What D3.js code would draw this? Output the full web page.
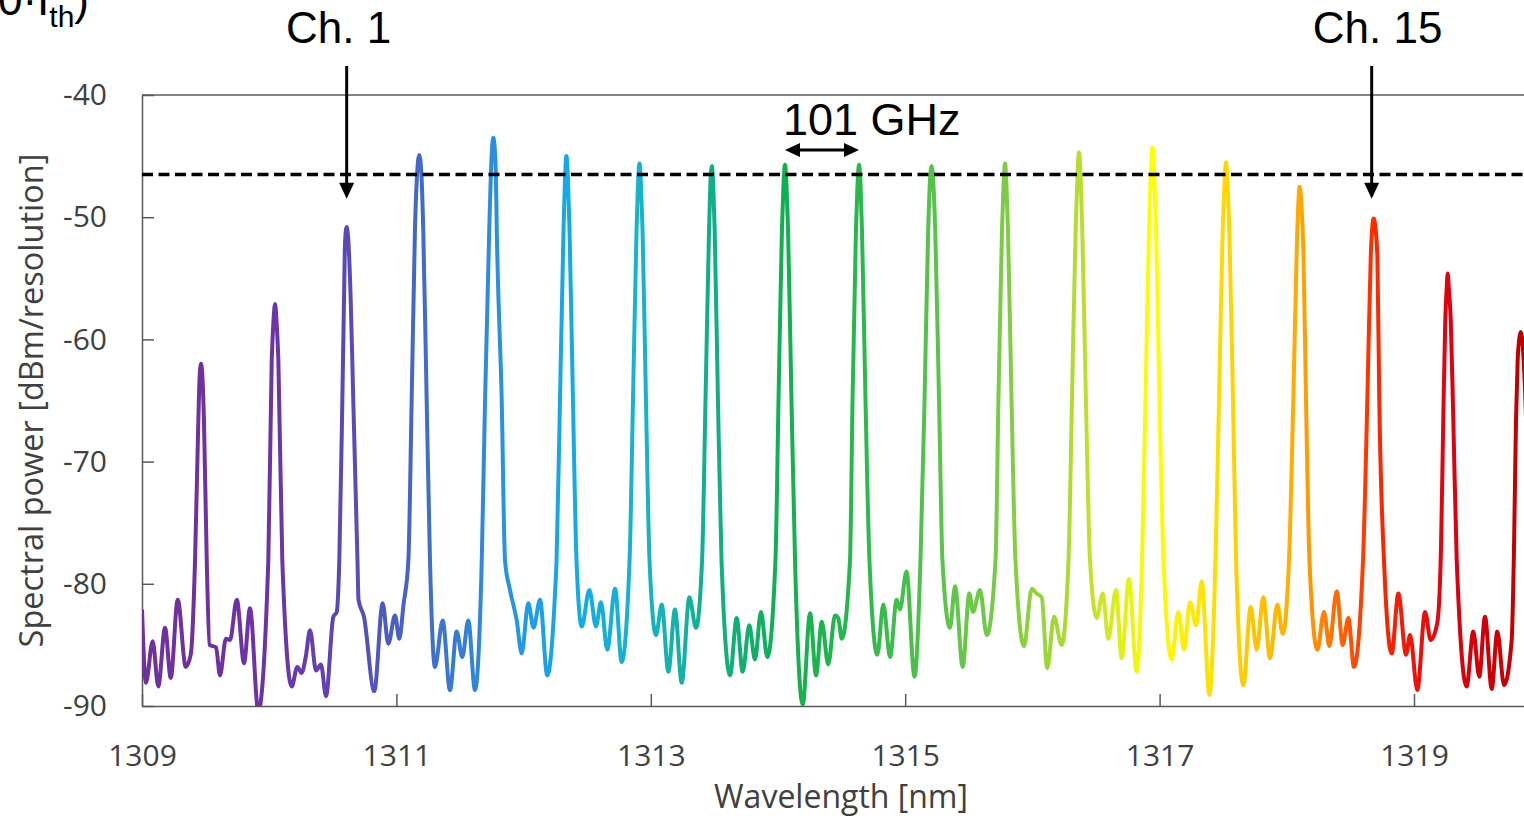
<!DOCTYPE html>
<html>
<head>
<meta charset="utf-8">
<script src="https://cdn.jsdelivr.net/npm/d3@7"></script>
<style>
  body { margin: 0; background: #fff; }
  svg { display: block; }
</style>
</head>
<body>
<div id="chart"></div>
<script>
// measured spectrum, [wavelength nm, power dBm]
var spectrum = [
  [1309.000, -82.1], [1309.031, -88.1], [1309.084, -84.7], [1309.128, -88.4], [1309.181, -83.6],
  [1309.226, -87.7], [1309.281, -81.3], [1309.344, -86.8], [1309.383, -85.8],
  [1309.417, -78.1], [1309.443, -66.6], [1309.452, -63.3], [1309.464, -62.0], [1309.476, -63.3],
  [1309.487, -66.6], [1309.509, -78.1], [1309.531, -85.0], [1309.582, -85.2], [1309.613, -87.5],
  [1309.660, -84.5], [1309.692, -84.6], [1309.745, -81.3], [1309.802, -86.5], [1309.849, -82.0],
  [1309.914, -90.4],
  [1309.993, -78.1], [1310.020, -61.7], [1310.034, -58.4], [1310.046, -57.1], [1310.057, -58.4],
  [1310.072, -61.7], [1310.103, -78.1], [1310.177, -88.4], [1310.221, -86.8], [1310.255, -87.3],
  [1310.287, -86.0], [1310.321, -83.8], [1310.368, -87.1], [1310.407, -86.6], [1310.447, -89.2],
  [1310.504, -82.7], [1310.531, -82.3],
  [1310.551, -78.1], [1310.575, -65.0], [1310.588, -56.8], [1310.597, -51.9], [1310.609, -50.8],
  [1310.622, -51.9], [1310.641, -56.8], [1310.661, -65.0], [1310.694, -78.1], [1310.702, -81.3],
  [1310.745, -82.7], [1310.826, -88.8], [1310.892, -81.6], [1310.936, -84.9], [1310.989, -82.6],
  [1311.023, -84.5], [1311.056, -81.7],
  [1311.094, -78.1], [1311.120, -65.0], [1311.146, -51.0], [1311.160, -47.0], [1311.180, -44.9],
  [1311.199, -47.0], [1311.211, -51.0], [1311.238, -65.0], [1311.264, -78.1], [1311.303, -86.8],
  [1311.364, -83.0], [1311.421, -88.7], [1311.474, -83.9], [1311.518, -86.0], [1311.565, -83.0],
  [1311.618, -88.7],
  [1311.671, -78.1], [1311.697, -65.0], [1311.730, -51.0], [1311.744, -46.1], [1311.762, -43.5],
  [1311.781, -46.1], [1311.789, -51.0], [1311.828, -65.0], [1311.854, -78.1], [1311.893, -80.5],
  [1311.946, -83.0], [1311.985, -85.7], [1312.037, -81.6], [1312.078, -83.6], [1312.129, -81.3],
  [1312.186, -87.5], [1312.247, -80.8],
  [1312.259, -78.1], [1312.286, -65.0], [1312.314, -51.0], [1312.325, -47.0], [1312.337, -45.0],
  [1312.349, -47.0], [1312.361, -51.0], [1312.388, -65.0], [1312.416, -78.1], [1312.457, -83.5],
  [1312.517, -80.5], [1312.569, -83.5], [1312.608, -81.5], [1312.658, -85.4], [1312.719, -80.4],
  [1312.771, -86.4],
  [1312.833, -78.1], [1312.860, -65.0], [1312.888, -51.0], [1312.899, -47.4], [1312.911, -45.6],
  [1312.923, -47.4], [1312.935, -51.0], [1312.962, -65.0], [1312.990, -78.1], [1313.041, -84.2],
  [1313.086, -81.7], [1313.138, -87.2], [1313.190, -82.1], [1313.243, -88.1], [1313.303, -81.1],
  [1313.355, -83.6],
  [1313.403, -78.1], [1313.430, -65.0], [1313.458, -51.0], [1313.468, -47.4], [1313.480, -45.8],
  [1313.491, -47.4], [1313.502, -51.0], [1313.528, -65.0], [1313.556, -78.1], [1313.623, -87.5],
  [1313.675, -82.8], [1313.722, -87.2], [1313.774, -83.4], [1313.819, -86.2], [1313.866, -82.3],
  [1313.916, -86.0],
  [1313.980, -78.1], [1314.004, -65.0], [1314.031, -51.0], [1314.043, -47.4], [1314.055, -45.7],
  [1314.067, -47.4], [1314.079, -51.0], [1314.106, -65.0], [1314.134, -78.1], [1314.194, -89.9],
  [1314.252, -82.4], [1314.299, -87.5], [1314.344, -83.1], [1314.395, -86.6], [1314.448, -82.6],
  [1314.474, -82.8], [1314.501, -84.5],
  [1314.566, -78.1], [1314.586, -65.0], [1314.613, -51.0], [1314.625, -47.4], [1314.637, -45.7],
  [1314.649, -47.4], [1314.660, -51.0], [1314.688, -65.0], [1314.719, -78.1], [1314.781, -85.8],
  [1314.828, -81.7], [1314.881, -86.0], [1314.933, -81.3], [1314.959, -82.1], [1315.010, -79.0],
  [1315.073, -87.6],
  [1315.120, -78.1], [1315.152, -65.0], [1315.181, -51.0], [1315.193, -47.4], [1315.208, -45.8],
  [1315.222, -47.4], [1315.236, -51.0], [1315.266, -65.0], [1315.293, -78.1], [1315.352, -83.6],
  [1315.392, -80.2], [1315.452, -86.8], [1315.504, -80.8], [1315.533, -82.3], [1315.588, -80.5],
  [1315.641, -84.2],
  [1315.710, -78.1], [1315.733, -65.0], [1315.761, -51.0], [1315.773, -47.4], [1315.785, -45.6],
  [1315.796, -47.4], [1315.808, -51.0], [1315.836, -65.0], [1315.867, -78.1], [1315.934, -85.1],
  [1315.995, -80.4], [1316.034, -80.8], [1316.073, -81.1], [1316.117, -86.9], [1316.170, -82.7],
  [1316.230, -85.0],
  [1316.284, -78.1], [1316.311, -65.0], [1316.340, -51.0], [1316.353, -47.0], [1316.366, -44.7],
  [1316.380, -47.0], [1316.392, -51.0], [1316.421, -65.0], [1316.453, -78.1], [1316.506, -82.8],
  [1316.553, -80.8], [1316.597, -84.5], [1316.657, -80.5], [1316.702, -86.1], [1316.759, -79.6],
  [1316.820, -87.2],
  [1316.862, -78.1], [1316.889, -65.0], [1316.917, -51.0], [1316.929, -47.0], [1316.944, -44.3],
  [1316.959, -47.0], [1316.972, -51.0], [1316.999, -65.0], [1317.031, -78.1], [1317.095, -86.2],
  [1317.147, -82.3], [1317.192, -85.4], [1317.239, -81.5], [1317.286, -83.4], [1317.331, -79.8],
  [1317.391, -89.1],
  [1317.439, -78.1], [1317.467, -65.0], [1317.496, -51.0], [1317.509, -47.4], [1317.522, -45.5],
  [1317.535, -47.4], [1317.548, -51.0], [1317.577, -65.0], [1317.601, -78.1], [1317.658, -88.3],
  [1317.716, -81.9], [1317.763, -85.4], [1317.815, -81.1], [1317.868, -86.1], [1317.925, -81.7],
  [1317.968, -84.1],
  [1318.017, -78.1], [1318.051, -65.0], [1318.078, -52.7], [1318.090, -49.0], [1318.101, -47.5],
  [1318.115, -49.0], [1318.130, -52.7], [1318.151, -65.0], [1318.178, -78.1], [1318.240, -85.4],
  [1318.292, -82.3], [1318.334, -85.1], [1318.392, -80.6], [1318.439, -85.0], [1318.484, -82.8],
  [1318.528, -86.8],
  [1318.599, -78.1], [1318.633, -65.0], [1318.660, -53.2], [1318.672, -50.8], [1318.683, -50.1],
  [1318.696, -50.8], [1318.712, -53.2], [1318.727, -65.0], [1318.764, -78.1], [1318.825, -85.7],
  [1318.877, -80.8], [1318.937, -85.8], [1318.969, -84.2], [1319.026, -88.7], [1319.087, -82.3],
  [1319.131, -84.6], [1319.183, -83.2],
  [1319.212, -77.2], [1319.230, -66.6], [1319.246, -58.4], [1319.256, -56.0], [1319.265, -54.6],
  [1319.275, -56.0], [1319.289, -58.4], [1319.309, -66.6], [1319.336, -78.1], [1319.414, -88.4],
  [1319.466, -83.9], [1319.513, -87.6], [1319.558, -82.7], [1319.611, -88.6], [1319.655, -83.9],
  [1319.708, -88.3], [1319.768, -84.6],
  [1319.786, -77.2], [1319.802, -66.6], [1319.815, -61.7], [1319.827, -60.0], [1319.839, -59.4],
  [1319.851, -60.0], [1319.862, -61.7], [1319.881, -66.6], [1319.904, -77.2], [1319.936, -84.6]
];

var peakWavelengths = [1309.464, 1310.046, 1310.609, 1311.180, 1311.762, 1312.337, 1312.911,
  1313.480, 1314.055, 1314.637, 1315.208, 1315.785, 1316.366, 1316.944, 1317.522, 1318.101,
  1318.683, 1319.265, 1319.839];
var peakColors = ['#7030a0', '#6c34a8', '#5c48b6', '#4169c9', '#2a8fdf', '#14a9e8', '#16b4cc',
  '#0faf88', '#10b050', '#28b84c', '#55c34a', '#7ccc44', '#b6dc30', '#ffff00', '#ffd700',
  '#ffa800', '#ff2a00', '#e00010', '#c00000'];

var xTicks = [1309, 1311, 1313, 1315, 1317, 1319];
var yTicks = [-40, -50, -60, -70, -80, -90];
var threshold = -46.5;
var ch1 = 2, ch15 = 16, spacingPair = [8, 9];

(function() {
  var width = 1524, height = 819;
  var svg = d3.select('#chart').append('svg')
    .attr('width', width)
    .attr('height', height)
    .style('font-family', '"Open Sans", sans-serif');

  var x = d3.scaleLinear().domain([1309, 1320]).range([142, 142 + 11 * 127.2]);
  var y = d3.scaleLinear().domain([-90, -40]).range([706, 95]);

  var defs = svg.append('defs');
  defs.append('clipPath').attr('id', 'plot').append('rect')
    .attr('x', x(1309))
    .attr('y', y(-40))
    .attr('width', width - x(1309))
    .attr('height', y(-90) - y(-40));

  var x0 = x.range()[0], x1 = x.range()[1];
  var grad = defs.append('linearGradient')
    .attr('id', 'rainbow')
    .attr('gradientUnits', 'userSpaceOnUse')
    .attr('x1', x0).attr('x2', x1)
    .attr('y1', 0).attr('y2', 0);
  grad.selectAll('stop')
    .data(peakWavelengths)
    .enter().append('stop')
    .attr('offset', function(d) { return (x(d) - x0) / (x1 - x0); })
    .attr('stop-color', function(d, i) { return peakColors[i]; });

  // axes
  var axisColor = '#595959';
  var plain = function(d) { return String(d); };
  var yAxis = svg.append('g')
    .attr('transform', 'translate(' + x(1309) + ',0)')
    .call(d3.axisLeft(y).tickValues(yTicks).tickSize(-12).tickSizeOuter(0).tickPadding(35)
      .tickFormat(plain));
  var xAxis = svg.append('g')
    .attr('transform', 'translate(0,' + y(-90) + ')')
    .call(d3.axisBottom(x).tickValues(xTicks).tickSize(-12).tickSizeOuter(0).tickPadding(39)
      .tickFormat(plain));
  [yAxis, xAxis].forEach(function(a) {
    a.select('.domain').attr('stroke', axisColor).attr('stroke-width', 1.5);
    a.selectAll('.tick line').attr('stroke', axisColor).attr('stroke-width', 1.5);
    a.selectAll('.tick text')
      .attr('fill', '#404040')
      .style('font-size', '30px')
      .style('font-family', '"Open Sans", sans-serif');
  });
  svg.append('line')
    .attr('x1', x(1309)).attr('x2', width)
    .attr('y1', y(-40)).attr('y2', y(-40))
    .attr('stroke', axisColor)
    .attr('stroke-width', 1.5);

  svg.append('text')
    .attr('x', 841).attr('y', 808)
    .attr('text-anchor', 'middle')
    .attr('fill', '#404040')
    .style('font-size', '32px')
    .text('Wavelength [nm]');
  svg.append('text')
    .attr('transform', 'translate(30,' + ((y(-40) + y(-90)) / 2) + ') rotate(-90)')
    .attr('text-anchor', 'middle')
    .attr('dominant-baseline', 'central')
    .attr('fill', '#404040')
    .style('font-size', '32.5px')
    .text('Spectral power [dBm/resolution]');

  // spectrum
  var line = d3.line()
    .x(function(d) { return x(d[0]); })
    .y(function(d) { return y(d[1]); })
    .curve(d3.curveMonotoneX);
  svg.append('path')
    .datum(spectrum)
    .attr('clip-path', 'url(#plot)')
    .attr('d', line)
    .attr('fill', 'none')
    .attr('stroke', 'url(#rainbow)')
    .attr('stroke-width', 4)
    .attr('stroke-linejoin', 'round');

  svg.append('line')
    .attr('x1', x(1309)).attr('x2', width)
    .attr('y1', y(threshold)).attr('y2', y(threshold))
    .attr('stroke', '#000')
    .attr('stroke-width', 3.5)
    .attr('stroke-dasharray', '11,5.5');

  // annotations
  var ann = svg.append('g').style('font-family', '"Liberation Sans", Arial, sans-serif');
  function downArrow(cx, tip) {
    ann.append('line')
      .attr('x1', cx).attr('x2', cx)
      .attr('y1', 66).attr('y2', tip - 12)
      .attr('stroke', '#000').attr('stroke-width', 3);
    ann.append('path')
      .attr('d', 'M' + (cx - 7.5) + ',' + (tip - 16) + 'L' + (cx + 7.5) + ',' + (tip - 16) + 'L' + cx + ',' + tip + 'Z')
      .attr('fill', '#000');
  }
  var ax1 = x(peakWavelengths[ch1]), ax15 = x(peakWavelengths[ch15]) - 2;
  downArrow(ax1, y(-48.5));
  downArrow(ax15, y(-48.5));
  ann.append('text').attr('x', ax1 - 8).attr('y', 43).attr('text-anchor', 'middle')
    .style('font-size', '44px').text('Ch. 1');
  ann.append('text').attr('x', ax15 + 6).attr('y', 43).attr('text-anchor', 'middle')
    .style('font-size', '44px').text('Ch. 15');

  var la = x(peakWavelengths[spacingPair[0]]), lb = x(peakWavelengths[spacingPair[1]]);
  var ly = y(-44.5);
  ann.append('line')
    .attr('x1', la + 12).attr('x2', lb - 12)
    .attr('y1', ly).attr('y2', ly)
    .attr('stroke', '#000').attr('stroke-width', 3);
  ann.append('path')
    .attr('d', 'M' + la + ',' + ly + 'L' + (la + 15) + ',' + (ly - 7) + 'L' + (la + 15) + ',' + (ly + 7) + 'Z' +
      'M' + lb + ',' + ly + 'L' + (lb - 15) + ',' + (ly - 7) + 'L' + (lb - 15) + ',' + (ly + 7) + 'Z')
    .attr('fill', '#000');
  ann.append('text').attr('x', la - 2).attr('y', 135)
    .style('font-size', '45px').text('101 GHz');

  // cropped title remnant at top-left, cut by the frame as in the source
  var t = ann.append('text').attr('x', 89).attr('y', 15).attr('text-anchor', 'end')
    .style('font-size', '44px');
  t.append('tspan').text('(2.0·I');
  t.append('tspan').attr('dy', 12).style('font-size', '30px').text('th');
  t.append('tspan').attr('dy', -12).text(')');
})();
</script>
</body>
</html>
